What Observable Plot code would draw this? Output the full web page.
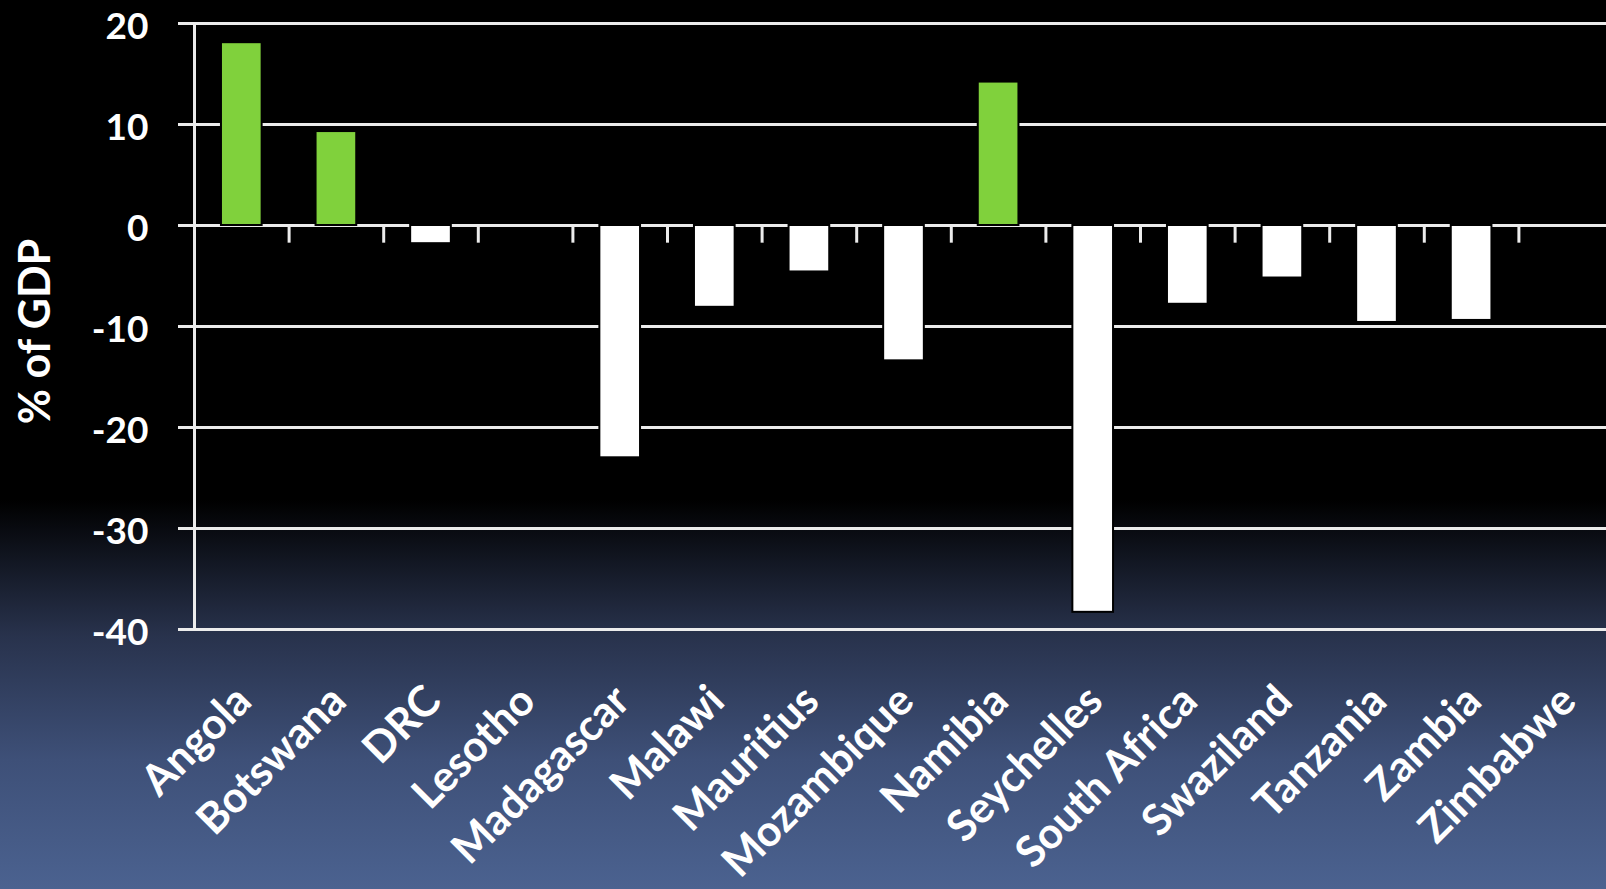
<!DOCTYPE html>
<html>
<head>
<meta charset="utf-8">
<script src="https://cdn.jsdelivr.net/npm/d3@7"></script>
<script src="https://cdn.jsdelivr.net/npm/@observablehq/plot@0.6"></script>
<style>
  html, body { margin: 0; padding: 0; overflow: hidden; }
  body {
    width: 1606px; height: 889px;
    background: linear-gradient(to bottom, #000 0px, #000 500px, #28324c 635px, #3e5078 760px, #4b6290 889px);
  }
  #chart svg { display: block; }
</style>
</head>
<body>
<div id="chart"></div>
<script>
const countries = ["Angola","Botswana","DRC","Lesotho","Madagascar","Malawi","Mauritius","Mozambique","Namibia","Seychelles","South Africa","Swaziland","Tanzania","Zambia","Zimbabwe"];
const balance = [18.1, 9.3, -1.8, 0, -23.0, -8.1, -4.6, -13.4, 14.2, -38.3, -7.8, -5.2, -9.6, -9.4, 0];
const yTicks = [20, 10, 0, -10, -20, -30, -40];
const yLabel = "% of GDP";

const data = countries.map((c, i) => ({country: c, value: balance[i]}));
const barData = data.filter(d => d.value !== 0);

const W = 1606, H = 889;
const xRange = [194, 1613];
const step = (xRange[1] - xRange[0]) / countries.length;
const font = "Lato, 'Open Sans', sans-serif";

const chart = Plot.plot({
  width: W,
  height: H,
  marginTop: 23,
  marginBottom: 260,
  marginLeft: 194,
  marginRight: 0,
  style: {background: "transparent", color: "white", fontFamily: font, overflow: "visible"},
  x: {type: "band", domain: countries, range: xRange, paddingInner: 0.57, paddingOuter: 0.285, round: false, axis: null},
  y: {domain: [-40, 20], ticks: yTicks, axis: null},
  marks: [
    Plot.ruleY(yTicks, {stroke: "#ececec", strokeWidth: 3, insetLeft: -16}),
    Plot.barY(barData, {x: "country", y: "value", fill: d => d.value > 0 ? "#80d13c" : "#ffffff", stroke: "#000", strokeWidth: 2}),
    Plot.ruleX([countries[0]], {x: d => d, dx: -step / 2, stroke: "#ececec", strokeWidth: 3}),
    Plot.ruleX(countries.slice(1), {x: d => d, y1: 0, y2: -1.75, dx: -step / 2, stroke: "#ececec", strokeWidth: 3}),
    Plot.text(yTicks, {y: d => d, text: d => String(d), frameAnchor: "left", textAnchor: "end", dx: -46, dy: 4, fill: "white", fontSize: 37, fontWeight: "bold"}),
    Plot.text(countries, {x: d => d, text: d => d, frameAnchor: "bottom", textAnchor: "end", rotate: -45, dx: 12, dy: 74, fill: "white", fontSize: 43, fontWeight: "bold"}),
    Plot.text([yLabel], {text: d => d, frameAnchor: "left", textAnchor: "middle", rotate: -90, dx: -158, dy: 5, fill: "white", fontSize: 43, fontWeight: "bold"})
  ]
});
document.getElementById("chart").appendChild(chart);
</script>
</body>
</html>
